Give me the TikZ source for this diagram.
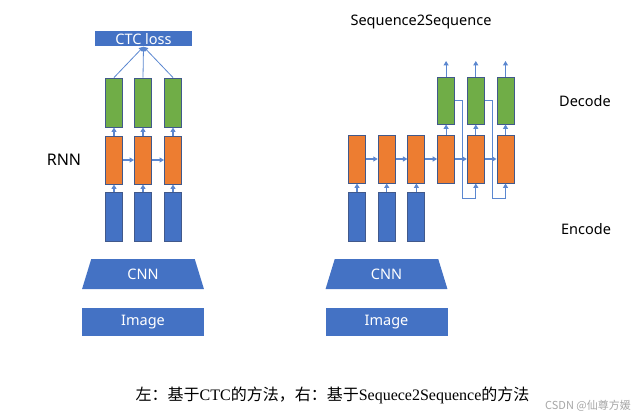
\documentclass[tikz,border=0pt]{standalone}
\usepackage{fontspec}
\setmainfont{Liberation Serif}
\newfontfamily\cjk{Noto Sans CJK SC}
\newfontfamily\lab{Noto Sans}
\usetikzlibrary{arrows.meta,shapes.geometric}
\definecolor{encblue}{HTML}{4472C4}
\definecolor{rnnorange}{HTML}{ED7D31}
\definecolor{decgreen}{HTML}{70AD47}
\definecolor{boxline}{HTML}{41598B}
\definecolor{linkblue}{HTML}{5B87D0}

\begin{document}
\begin{tikzpicture}[x=1pt,y=-1pt,
  cell/.style={draw=boxline,line width=0.9pt,minimum width=17pt,minimum height=48pt,inner sep=0pt},
  lnk/.style={draw=linkblue,line width=1.1pt,-{Triangle[length=4.5pt,width=5pt]}},
  band/.style={fill=encblue,text=white,font=\lab\fontsize{14.5}{16}\selectfont,minimum width=122pt,minimum height=28pt,inner sep=0pt},
  txt/.style={font=\lab\fontsize{14.5}{16}\selectfont}]
  \useasboundingbox (0,0) rectangle (639,417);
  % 左边: CTC
  \node[band,minimum width=97pt,minimum height=15pt] (ctc) at (143.5,39) {CTC loss};
  \foreach \i/\x in {1/114,2/143,3/173} {
    \node[cell,fill=encblue,minimum height=49pt] (lb\i) at (\x,216.5) {};
    \node[cell,fill=rnnorange] (lr\i) at (\x,160) {};
    \node[cell,fill=decgreen,minimum height=49pt] (lg\i) at (\x,102.5) {};
    \draw[lnk] (lb\i) -- (lr\i);
    \draw[lnk] (lr\i) -- (lg\i);
    \draw[lnk,line width=0.8pt] (lg\i.north) -- (ctc.south);
  }
  \draw[lnk] (lr1) -- (lr2);
  \draw[lnk] (lr2) -- (lr3);
  \node[txt,font=\lab\fontsize{16}{18}\selectfont] (rnn) at (64,160) {RNN};
  \node[trapezium,trapezium angle=79,trapezium stretches=true,minimum width=122pt,minimum height=30pt,fill=encblue,text=white,font=\lab\fontsize{14.5}{16}\selectfont] (lcnn) at (143,274) {CNN};
  \node[band] (limg) at (143,322) {Image};
  % 右边: Sequence2Sequence
  \foreach \i in {1,...,6} {
    \node[cell,fill=rnnorange] (rr\i) at ({327.3+29.7*\i},159) {};
  }
  \foreach \i in {1,2,3} {
    \node[cell,fill=encblue,minimum height=49pt] (rb\i) at ({327.3+29.7*\i},216.5) {};
    \draw[lnk] (rb\i) -- (rr\i);
  }
  \foreach \i in {4,5,6} {
    \node[cell,fill=decgreen,minimum height=47pt] (rg\i) at ({327.3+29.7*\i},100.5) {};
    \coordinate (out\i) at ({327.3+29.7*\i},61);
    \draw[lnk] (rr\i) -- (rg\i);
    \draw[lnk] (rg\i) -- (out\i);
  }
  \foreach \i/\j in {1/2,2/3,3/4,4/5,5/6} {
    \draw[lnk] (rr\i) -- (rr\j);
  }
  % 反馈
  \draw[lnk] (rg4.east) -- ++(7,0) |- ([yshift=-15pt]rr5.south) -- (rr5.south);
  \draw[lnk] (rg5.east) -- ++(7.5,0) |- ([yshift=-15pt]rr6.south) -- (rr6.south);
  \node[trapezium,trapezium angle=79,trapezium stretches=true,minimum width=122pt,minimum height=30pt,fill=encblue,text=white,font=\lab\fontsize{14.5}{16}\selectfont] (rcnn) at (386.5,274) {CNN};
  \node[band] (rimg) at (386.5,322) {Image};
  \node[txt] (s2s) at (421,22) {Sequence2Sequence};
  \node[txt] (dec) at (585,101) {Decode};
  \node[txt] (enc) at (586,229) {Encode};
  % 标题
  \node[font=\fontsize{16}{18}\selectfont] (cap) at (332.5,395) {{\cjk 左：基于}CTC{\cjk 的方法，右：基于}Sequece2Sequence{\cjk 的方法}};
  \node[font=\cjk\fontsize{11}{12}\selectfont,text=gray!70] (mark) at (588,406) {CSDN @仙尊方媛};
\end{tikzpicture}
\end{document}
